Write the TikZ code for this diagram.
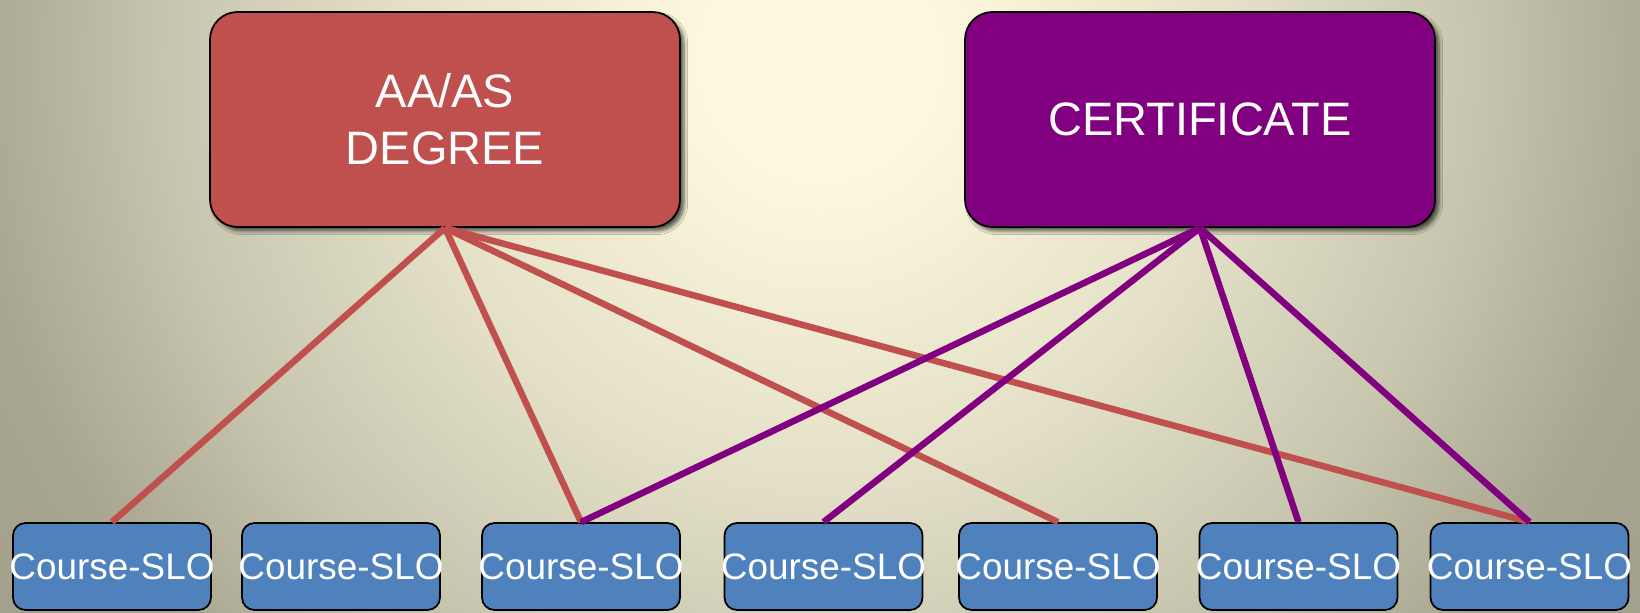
\documentclass[tikz,border=0pt]{standalone}
\usepackage{fontspec}
\setmainfont{Liberation Sans}
\usetikzlibrary{shadows.blur}
\definecolor{degred}{HTML}{C0504D}
\definecolor{certpurple}{HTML}{800080}
\definecolor{sloblue}{HTML}{4F81BD}
\definecolor{bgA}{HTML}{FDF8DD}
\definecolor{bgB}{HTML}{E3E0C7}
\definecolor{bgC}{HTML}{C8C6AF}
\definecolor{bgD}{HTML}{A9A691}
\definecolor{bgE}{HTML}{A2A08C}
\pgfdeclareradialshading{bgglow}{\pgfpoint{0bp}{0bp}}{color(0bp)=(bgA); color(3bp)=(bgA); color(10.5bp)=(bgB); color(16.25bp)=(bgC); color(21.25bp)=(bgD); color(25bp)=(bgE); color(50bp)=(bgE)}
\newcommand{\slotext}{\makebox[3.96cm]{Course-SLO}}

\begin{document}
\begin{tikzpicture}[
    bigbox/.style={draw=black, line width=1pt, rounded corners=0.55cm, minimum width=9.4cm, minimum height=4.3cm, text=white, align=center, font=\fontsize{26.7}{32.4}\selectfont, blur shadow={shadow xshift=0.08cm, shadow yshift=-0.08cm, shadow blur steps=6, shadow opacity=65}},
    slobox/.style={draw=black, line width=1pt, rounded corners=0.25cm, fill=sloblue, minimum width=3.96cm, minimum height=1.74cm, inner sep=0pt, text=white, font=\fontsize{21}{25}\selectfont},
    link/.style={line width=0.13cm}]
    \useasboundingbox (0,0) rectangle (32.8,12.24);
    \begin{scope}
      \clip (0,0) rectangle (32.8,12.24);
      \shade[shading=bgglow] (-3.6,-8.96) rectangle (36.4,31.04);
    \end{scope}

    \node[bigbox, fill=degred] (deg) at (8.9,9.85) {AA/AS\\DEGREE};
    \node[bigbox, fill=certpurple] (cert) at (24,9.85) {CERTIFICATE};
    \foreach \x [count=\i] in {2.24,6.82,11.62,16.47,21.16,25.97,30.59}{
      \node[slobox] (c\i) at (\x,0.91) {\slotext};
    }
    \foreach \j in {1,3,5,7}{
      \draw[link, degred] (deg.south) -- (c\j.north);
    }
    \foreach \j in {3,4,6,7}{
      \draw[link, certpurple] (cert.south) -- (c\j.north);
    }

  \end{tikzpicture}
\end{document}
